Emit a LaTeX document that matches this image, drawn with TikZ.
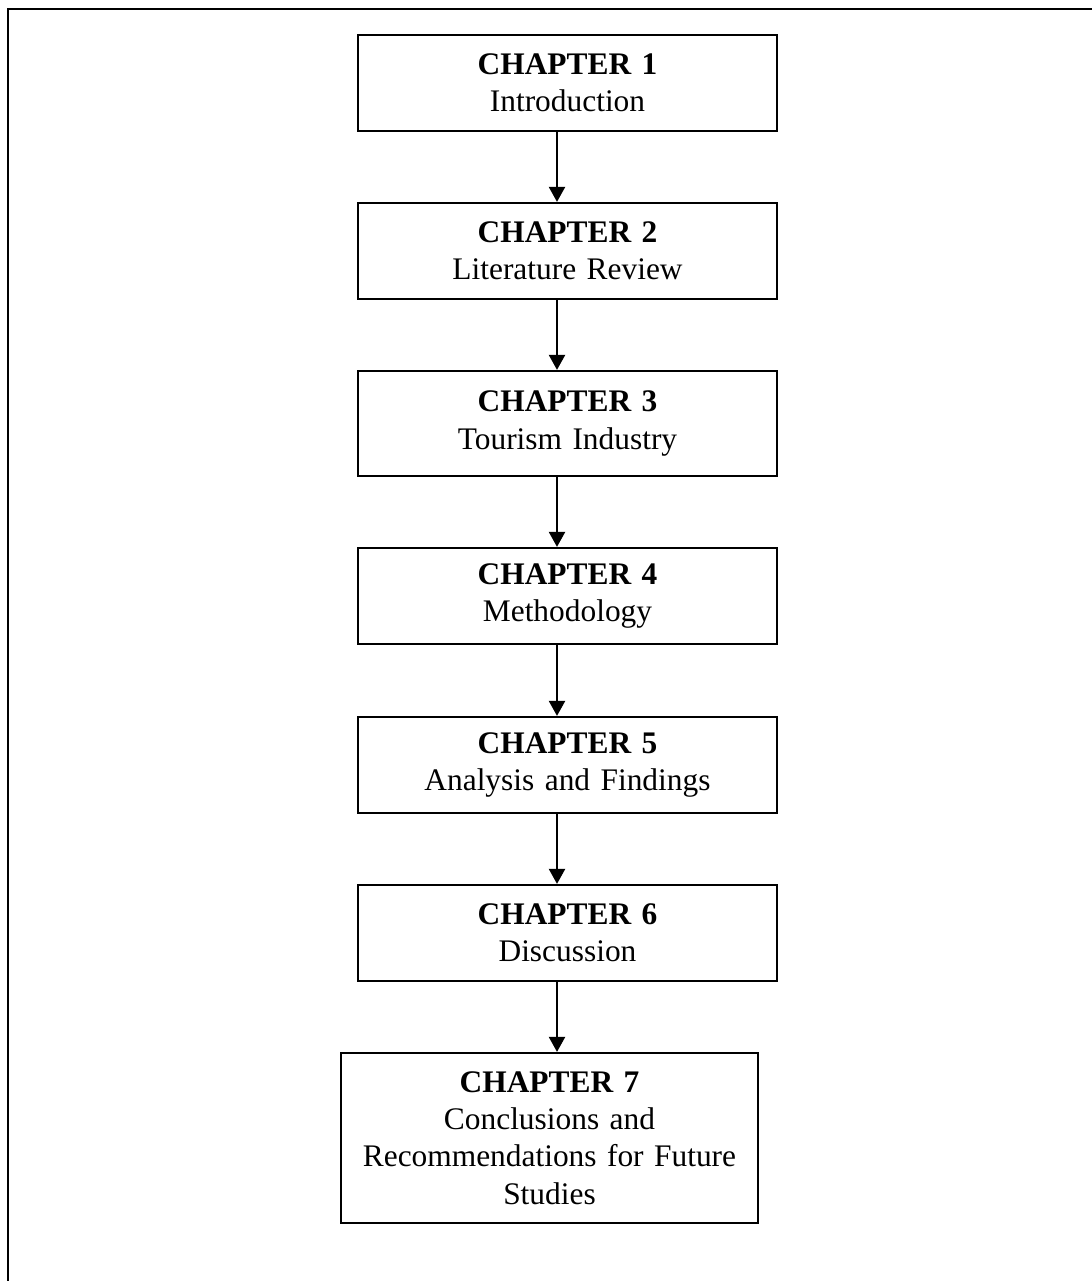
\documentclass[tikz,border=0pt]{standalone}
\usepackage{fontspec}
\setmainfont{Liberation Serif}
\usetikzlibrary{arrows.meta}
\tikzstyle{chap} = [rectangle, draw=black, line width=1.1pt, minimum width=209.5pt, minimum height=48pt, text width=200pt, align=center, inner sep=0pt, font=\fontsize{15.7pt}{18.7pt}\selectfont]
\tikzstyle{arrow} = [line width=1.1pt, -{Triangle[length=7.5pt,width=8pt]}]

\begin{document}
\begin{tikzpicture}[x=0.5pt, y=-0.5pt]
\useasboundingbox (0,0) rectangle (1092,1281);

% Frame
\draw[line width=1.2pt] (8,1281) -- (8,9) -- (1092,9);

% Chapters
\node[chap] (ch1) at (567.5,83) {\textbf{CHAPTER 1}\\Introduction};
\node[chap] (ch2) at (567.5,251) {\textbf{CHAPTER 2}\\Literature Review};
\node[chap, minimum height=52.5pt] (ch3) at (567.5,423.5) {\textbf{CHAPTER 3}\\Tourism Industry};
\node[chap] (ch4) at (567.5,596) {\textbf{CHAPTER 4}\\Methodology};
\node[chap] (ch5) at (567.5,765) {\textbf{CHAPTER 5}\\Analysis and Findings};
\node[chap] (ch6) at (567.5,933) {\textbf{CHAPTER 6}\\Discussion};
\node[chap, minimum width=208.5pt, minimum height=85pt] (ch7) at (549.5,1138) {\textbf{CHAPTER 7}\\Conclusions and\\Recommendations for Future\\Studies};

% Arrows
\coordinate (ax) at (557,0);
\foreach \a/\b in {ch1/ch2, ch2/ch3, ch3/ch4, ch4/ch5, ch5/ch6, ch6/ch7}
  \draw[arrow] (\a.south -| ax) -- (\b.north -| ax);

\end{tikzpicture}
\end{document}
